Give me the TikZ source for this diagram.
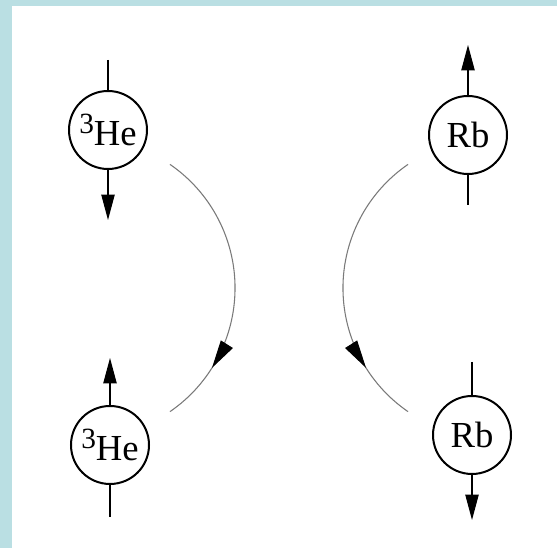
\documentclass[tikz,border=0pt]{standalone}
\usepackage{fontspec}
\setmainfont{Liberation Serif}
\usetikzlibrary{arrows.meta,decorations.markings}

\definecolor{frameblue}{HTML}{BADFE3}
\definecolor{arcgray}{HTML}{7A7A7A}

\begin{document}
\begin{tikzpicture}[x=0.75pt,y=0.75pt,
  atom/.style={circle,draw,line width=1.5pt,minimum size=58.5pt,inner sep=0pt,
    font=\fontsize{27.5pt}{30pt}\selectfont},
  spin/.style={line width=0.8pt},
  tip/.style={-{Triangle[length=19pt,width=10pt]}},
  transfer/.style={arcgray,line width=0.8pt,postaction={decorate},
    decoration={markings,mark=at position 0.79 with
      {\arrow[black]{Triangle[length=21pt,width=10.5pt]}}}}]

% ------------------------------------------------------------------
% Frame
% ------------------------------------------------------------------
\useasboundingbox (0,0) rectangle (557,548);
\fill[frameblue] (0,0) rectangle (557,548);
\fill[white] (12,0) rectangle (557,542);

% ------------------------------------------------------------------
% Atoms (before on top, after at the bottom)
% ------------------------------------------------------------------
\node[atom] (he1) at (108,418) {\raisebox{9pt}{\fontsize{22pt}{22pt}\selectfont 3}He};
\node[atom] (rb1) at (468,413) {Rb};
\node[atom] (he2) at (110,103) {\raisebox{9pt}{\fontsize{22pt}{22pt}\selectfont 3}He};
\node[atom] (rb2) at (472,113) {Rb};

% ------------------------------------------------------------------
% Spin axes
% ------------------------------------------------------------------
\coordinate (he1up) at (108,488);
\coordinate (he1dn) at (108,328);
\coordinate (rb1up) at (468,503);
\coordinate (rb1dn) at (468,343);
\coordinate (he2up) at (110,190);
\coordinate (he2dn) at (110,31);
\coordinate (rb2up) at (472,186);
\coordinate (rb2dn) at (472,28);

\draw[spin] (he1up) -- (he1.north);
\draw[spin,tip] (he1.south) -- (he1dn);

\draw[spin,tip] (rb1.north) -- (rb1up);
\draw[spin] (rb1.south) -- (rb1dn);

\draw[spin,tip] (he2.north) -- (he2up);
\draw[spin] (he2.south) -- (he2dn);

\draw[spin] (rb2up) -- (rb2.north);
\draw[spin,tip] (rb2.south) -- (rb2dn);

% ------------------------------------------------------------------
% Spin exchange arcs
% ------------------------------------------------------------------
\coordinate (arcL) at (170,383.6);
\coordinate (arcR) at (408,383.6);

\draw[transfer] (arcL) arc[start angle=55.5,end angle=-55.5,radius=112.5pt];
\draw[transfer] (arcR) arc[start angle=124.5,end angle=235.5,radius=112.5pt];

\end{tikzpicture}
\end{document}
